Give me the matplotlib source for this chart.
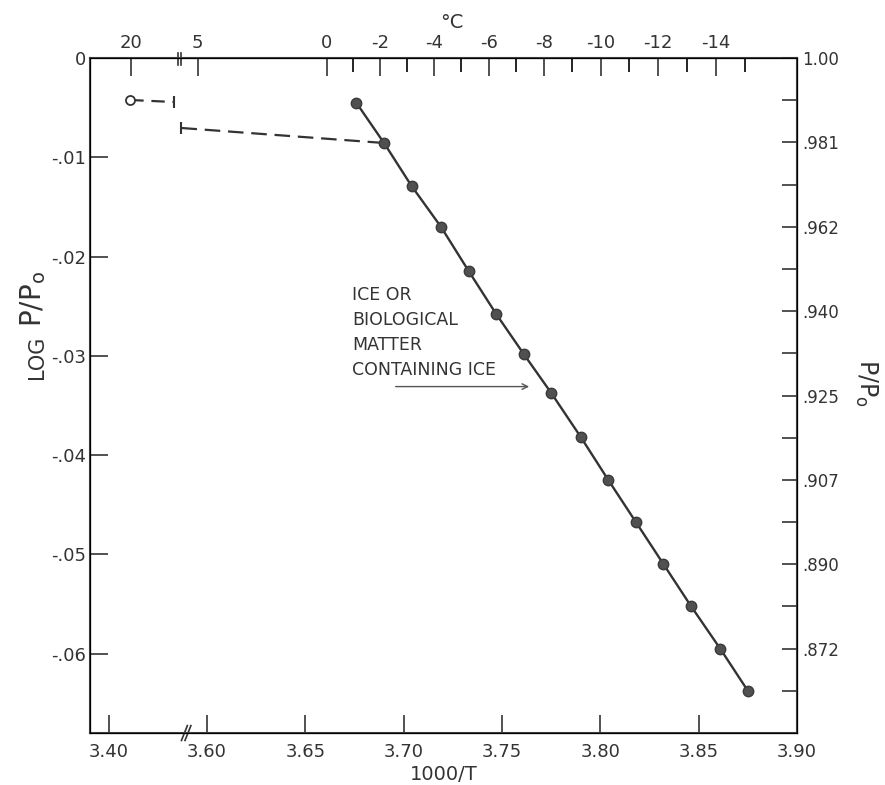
import numpy as np
import matplotlib.pyplot as plt

plt.rcParams['font.family'] = 'DejaVu Sans'
plt.rcParams['axes.unicode_minus'] = False

# ice points, -1 .. -15 C  (1000/T, log p/po)
ice_x = [3.676, 3.690, 3.704, 3.719, 3.733, 3.747, 3.761, 3.775,
         3.790, 3.804, 3.818, 3.832, 3.846, 3.861, 3.875]
ice_y = [-0.00453, -0.00856, -0.01289, -0.01702, -0.02145, -0.02578,
         -0.02981, -0.03374, -0.03817, -0.04250, -0.04673, -0.05096,
         -0.05519, -0.05952, -0.06375]

# open circle with its range bar, and the dashed range to the ice line
water_x = [3.411, 3.433]
water_y = [-0.00423, -0.00443]
range_x = [3.437, 3.690]
range_y = [-0.00705, -0.00856]

bottom_ticks = [3.40, 3.60, 3.65, 3.70, 3.75, 3.80, 3.85, 3.90]
bottom_labels = ['3.40', '3.60', '3.65', '3.70', '3.75', '3.80', '3.85', '3.90']
left_ticks = [0, -0.01, -0.02, -0.03, -0.04, -0.05, -0.06]
left_labels = ['0', '-.01', '-.02', '-.03', '-.04', '-.05', '-.06']
right_labels = ['1.00', '.981', '.962', '.940', '.925', '.907', '.890', '.872']
top_major = [20, 5, 0, -2, -4, -6, -8, -10, -12, -14]
top_minor = [-1, -3, -5, -7, -9, -11, -13, -15]

ink = '#333333'


def to_axis(x):
    # broken axis: the 3.40 part is shifted next to 3.60
    x = np.asarray(x, dtype=float)
    return np.where(x < 3.5, x + 0.15, x)


def celsius_pos(t):
    return to_axis(1000.0 / (273.15 + np.asarray(t, dtype=float)))


fig = plt.figure(figsize=(8.85, 7.85), dpi=100)
ax = fig.add_axes([0.1017, 0.0662, 0.7989, 0.8599])
ax.set_xlim(3.5405, 3.90)
ax.set_ylim(-0.068, 0)

ax.plot(to_axis(ice_x), ice_y, color=ink, lw=1.7, marker='o', ms=7.5,
        mfc='#505050', mec='#3a3a3a', zorder=3)
ax.plot(to_axis(range_x), range_y, color=ink, lw=1.6, dashes=(7, 3.5))
ax.plot(to_axis(range_x[:1]), range_y[:1], color=ink, marker='|', ms=8, mew=1.5)
ax.plot(to_axis(water_x), water_y, color=ink, lw=1.6, dashes=(6, 3.5))
ax.plot(to_axis(water_x[1:]), water_y[1:], color=ink, marker='|', ms=8, mew=1.5)
ax.plot(to_axis(water_x[:1]), water_y[:1], color=ink, marker='o', ms=6.5,
        mfc='white', mec=ink, mew=1.3, zorder=4)

ax.annotate('', xy=(3.7652, -0.0331), xytext=(3.6945, -0.0331),
            arrowprops=dict(arrowstyle='->', lw=1.0, color='#555555'))
ax.text(3.6737, -0.0230, 'ICE OR\nBIOLOGICAL\nMATTER\nCONTAINING ICE',
        fontsize=12.5, color=ink, ha='left', va='top', linespacing=1.5)

for s in ax.spines.values():
    s.set_linewidth(1.5)
    s.set_color('#444444')

ax.set_xticks(to_axis(bottom_ticks))
ax.set_xticklabels(bottom_labels)
ax.set_yticks(left_ticks)
ax.set_yticklabels(left_labels)
ax.tick_params(axis='x', direction='in', length=13, width=1.2, labelsize=13,
               colors=ink, pad=7)
ax.tick_params(axis='y', direction='in', length=13, width=1.2, labelsize=13,
               colors=ink, pad=3)

# break marks on the bottom and top spines
for u in (3.5885, 3.5903):
    ax.plot([u - 0.0015, u + 0.0015], [-0.011, 0.011], transform=ax.get_xaxis_transform(),
            color=ink, lw=1.2, clip_on=False)
    ax.plot([u - 0.0035, u - 0.0035], [0.989, 1.008], transform=ax.get_xaxis_transform(),
            color=ink, lw=1.2, clip_on=False)

ax2 = ax.twinx()
ax2.set_ylim(ax.get_ylim())
step = 0.0085
ax2.set_yticks([-step * i for i in range(len(right_labels))])
ax2.set_yticklabels(right_labels)
ax2.set_yticks([-step * (i + 0.5) for i in range(len(right_labels))], minor=True)
ax2.tick_params(which='both', direction='in', length=11, width=1.2,
                labelsize=12, colors=ink, pad=4)

ax3 = ax.twiny()
ax3.set_xlim(ax.get_xlim())
ax3.set_xticks(celsius_pos(top_major))
ax3.set_xticklabels([str(t) for t in top_major])
ax3.set_xticks(celsius_pos(top_minor), minor=True)
ax3.tick_params(which='major', direction='in', length=13, width=1.2,
                labelsize=13, colors=ink, pad=4)
ax3.tick_params(which='minor', direction='in', length=10, width=1.2)

fig.text(452 / 885, 1 - 22 / 785, '°C', ha='center', va='center', fontsize=14, color=ink)
fig.text(444 / 885, 1 - 774 / 785, '1000/T', ha='center', va='center', fontsize=14, color=ink)
fig.text(37 / 885, 1 - 357 / 785, 'LOG', rotation=90,
         ha='center', va='center', fontsize=15, color=ink)
fig.text(33 / 885, 1 - 299 / 785, r'P/P$_\mathregular{o}$', rotation=90,
         ha='center', va='center', fontsize=20, color=ink)
fig.text(866 / 885, 1 - 383 / 785, r'P/P$_\mathregular{o}$', rotation=270,
         ha='center', va='center', fontsize=17, color=ink)

fig.savefig('out.png', dpi=100)
